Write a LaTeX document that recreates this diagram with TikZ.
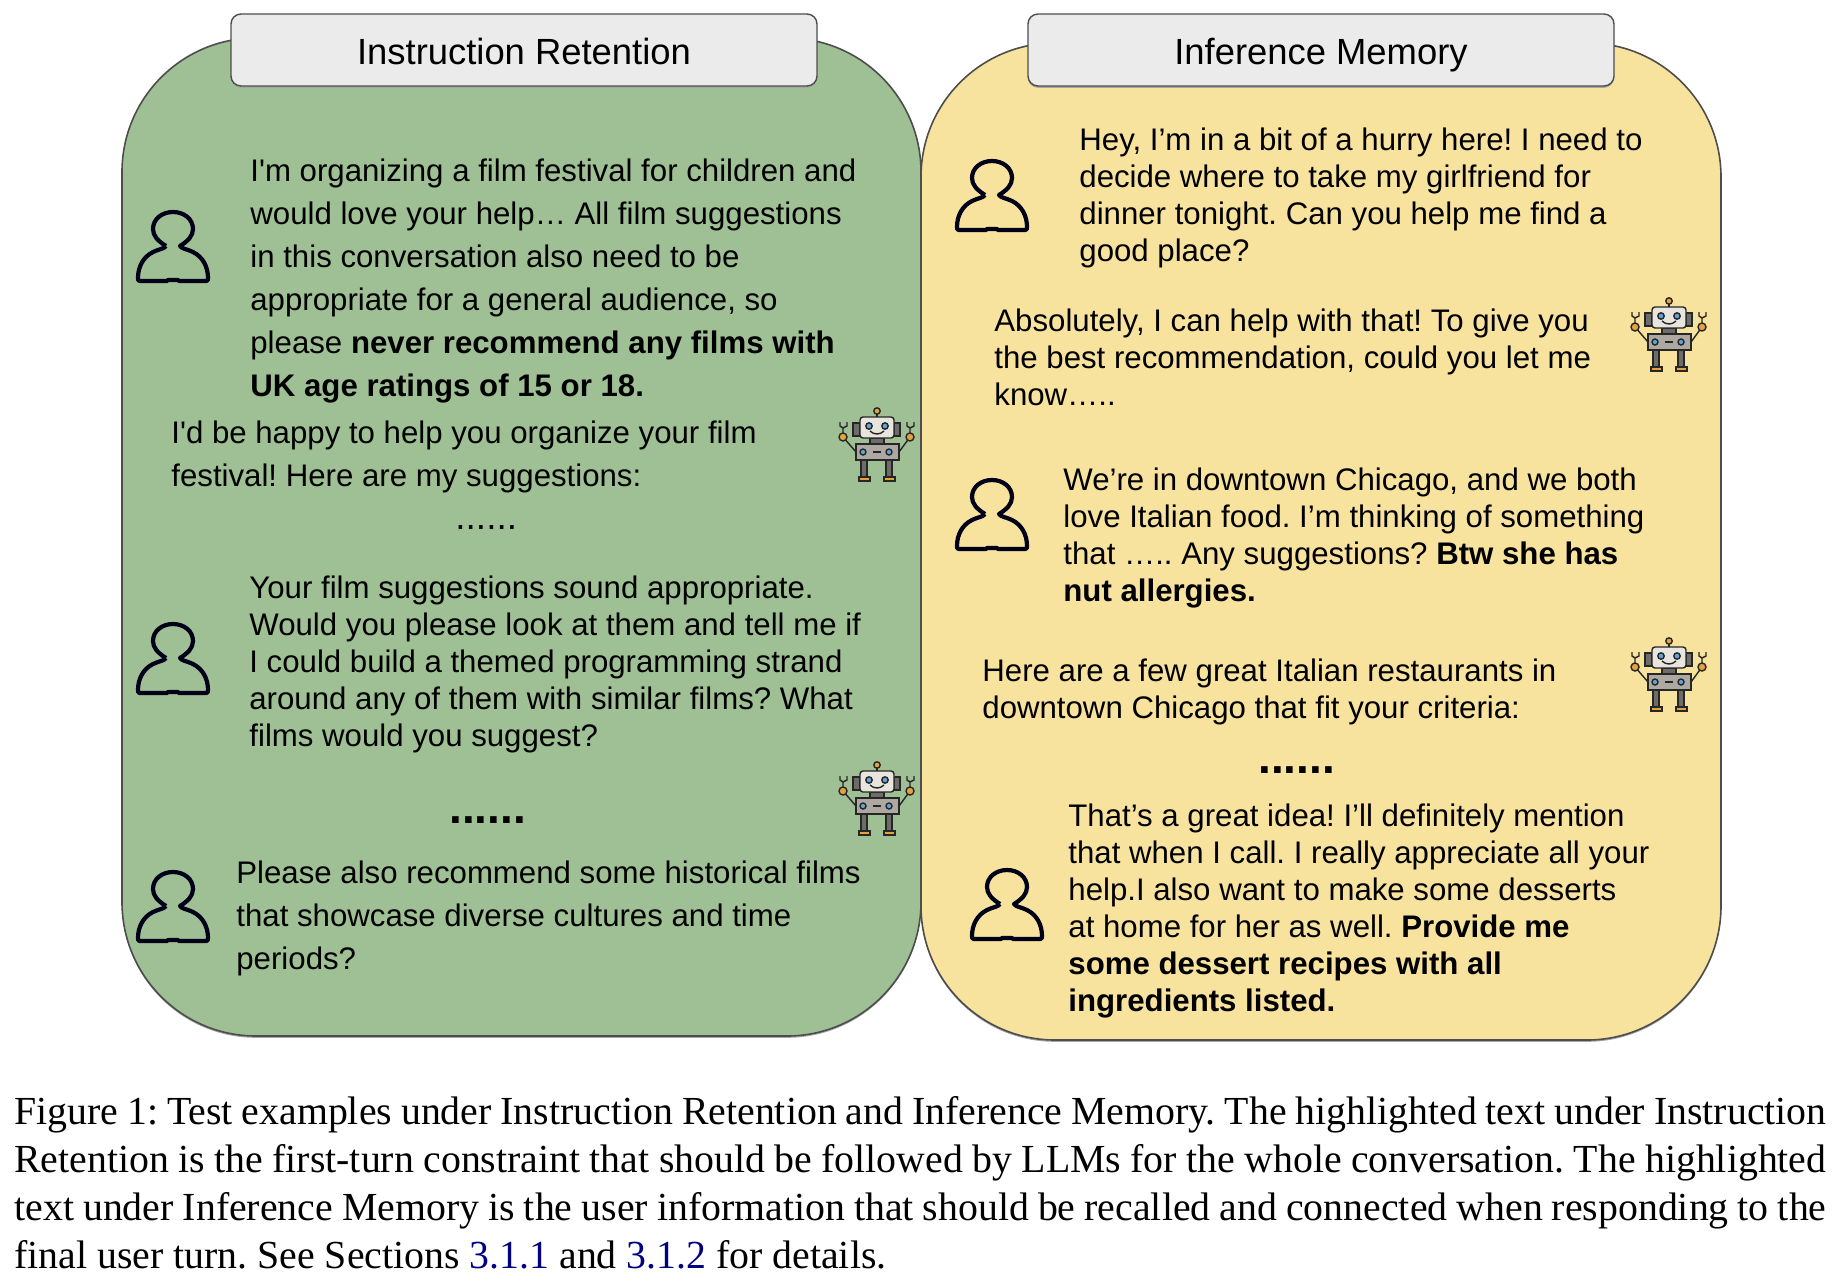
\documentclass[tikz,border=0pt]{standalone}
\usepackage{fontspec}
\newfontfamily\bodyfont{Liberation Sans}[Ligatures=NoCommon]
\setmainfont{Liberation Serif}
\usepackage{xcolor}
\usetikzlibrary{positioning,shadows}
\frenchspacing
\definecolor{panelgreen}{HTML}{9FBF94}
\definecolor{panelyellow}{HTML}{F7E29E}
\definecolor{titlegray}{HTML}{EBEBEB}
\definecolor{edgegray}{HTML}{4D4D4D}
\definecolor{linkblue}{HTML}{000080}
\definecolor{robotgray}{HTML}{ADA9A2}
\definecolor{robotdark}{HTML}{6E6C69}
\definecolor{robotlight}{HTML}{E8E5DE}
\definecolor{robotorange}{HTML}{E5A33D}
\definecolor{roboteye}{HTML}{5FA5DC}
\tikzset{
  edgeshadow/.style={drop shadow={shadow xshift=0pt,shadow yshift=-0.9pt,fill=black!35,opacity=1}},
  panelbox/.style={draw=edgegray,line width=0.8pt,rounded corners=67pt,inner sep=0pt,edgeshadow},
  titlebox/.style={draw=edgegray,line width=0.7pt,fill=titlegray,rounded corners=5pt,inner sep=0pt,edgeshadow,
    text height=18pt,text depth=4pt,minimum width=293pt,minimum height=36pt,font=\bodyfont\fontsize{18.2}{22}\selectfont},
  looseline/.style={anchor=north west,inner sep=0pt,align=left,font=\bodyfont\fontsize{15.6}{21.5}\selectfont},
  tightline/.style={anchor=north west,inner sep=0pt,align=left,font=\bodyfont\fontsize{15.6}{18.5}\selectfont},
  plaindots/.style={anchor=north west,inner sep=0pt,font=\bodyfont\fontsize{18.5}{20}\selectfont},
  bolddots/.style={anchor=north west,inner sep=0pt,font=\bodyfont\bfseries\fontsize{23}{24}\selectfont},
  person/.pic={
    \draw[line width=2.1pt,line join=round,color=black!90!blue]
      (-7,34) .. controls (-15,29) and (-20,24) .. (-20,17)
      .. controls (-20,7) and (-11,0) .. (0,0)
      .. controls (11,0) and (20,7) .. (20,17)
      .. controls (20,24) and (15,29) .. (7,34)
      .. controls (9,37) and (14,37) .. (20,40)
      .. controls (30,45) and (35,55) .. (35,66)
      .. controls (35,68) and (35,69) .. (33,69)
      -- (6,69) -- (5,68) -- (-5,68) -- (-6,69) -- (-33,69)
      .. controls (-35,69) and (-35,68) .. (-35,66)
      .. controls (-35,55) and (-30,45) .. (-20,40)
      .. controls (-14,37) and (-9,37) .. (-7,34);
  },
  robot/.pic={
    \begin{scope}[draw=black!85,line width=0.7pt]
    \draw (-34,-9)--(-21,6) (33,-9)--(22,6);
    \draw (-34,-9)--(-34,-18) (-37,-24)--(-37,-20)--(-34,-18)--(-30,-20)--(-30,-24);
    \draw (33,-9)--(33,-18) (30,-24)--(30,-20)--(33,-18)--(37,-20)--(37,-24);
    \filldraw[fill=robotorange] (-34,-9) circle (2pt);
    \filldraw[fill=robotorange] (33,-9) circle (2pt);
    \draw (0,-35)--(0,-29);
    \filldraw[fill=robotorange] (0,-35) circle (1.6pt);
    \filldraw[fill=robotdark] (-24,-23) rectangle (-17,-10);
    \filldraw[fill=robotdark] (17,-23) rectangle (23,-10);
    \filldraw[fill=robotdark] (-7,-8) rectangle (7,-2);
    \filldraw[fill=robotlight,rounded corners=1.5pt] (-17,-29) rectangle (17,-8);
    \filldraw[fill=robotgray] (-21,-2) rectangle (22,14);
    \filldraw[fill=robotdark] (-16,14) rectangle (-10,31);
    \filldraw[fill=robotdark] (9,14) rectangle (15,31);
    \filldraw[fill=robotorange] (-18,31) rectangle (-7,35);
    \filldraw[fill=robotorange] (7,31) rectangle (18,35);
    \filldraw[fill=roboteye] (-8,-20) circle (1.6pt);
    \filldraw[fill=roboteye] (8,-20) circle (1.6pt);
    \draw (-7,-15) .. controls (-3,-11) and (3,-11) .. (7,-15);
    \filldraw[fill=roboteye] (-14,6) circle (1.5pt);
    \filldraw[fill=roboteye] (12,6) circle (1.5pt);
    \draw (-4,6)--(4,6);
    \end{scope}
  }
}

\begin{document}
\begin{tikzpicture}[x=0.5pt,y=-0.5pt]
\useasboundingbox (0,0) rectangle (1838,1286);
\fill[white] (0,0) rectangle (1838,1286);
% the two panels
\node[panelbox,fill=panelgreen,minimum width=399.5pt,minimum height=499pt] (retention) at (521.5,537) {};
\node[panelbox,fill=panelyellow,minimum width=400pt,minimum height=498.5pt] (memory) at (1321,541.5) {};
\node[titlebox] (retentiontitle) at (524,50) {Instruction Retention};
\node[titlebox] (memorytitle) at (1321,50) {Inference Memory};
% left panel
\pic at (173,212) {person};
\node[looseline] (lefta) at (250,158) {I'm organizing a film festival for children and\\would love your help\ldots\ All film suggestions\\in this conversation also need to be\\appropriate for a general audience, so\\please \textbf{never recommend any films with}\\\textbf{UK age ratings of 15 or 18.}};
\node[looseline] (leftb) at (171,420) {I'd be happy to help you organize your film\\festival! Here are my suggestions:};
\pic at (877,446) {robot};
\node[plaindots] (leftdots) at (455,525) {......};
\pic at (173,624) {person};
\node[tightline] (leftc) at (249,575) {Your film suggestions sound appropriate.\\Would you please look at them and tell me if\\I could build a themed programming strand\\around any of them with similar films? What\\films would you suggest?};
\node[bolddots] (leftboldots) at (449,816) {......};
\pic at (877,800) {robot};
\pic at (173,872) {person};
\node[looseline] (leftd) at (236,860) {Please also recommend some historical films\\that showcase diverse cultures and time\\periods?};
% right panel
\pic at (992,161) {person};
\node[tightline] (righta) at (1079,127) {Hey, I’m in a bit of a hurry here! I need to\\decide where to take my girlfriend for\\dinner tonight. Can you help me find a\\good place?};
\node[tightline] (rightb) at (994,308) {Absolutely, I can help with that! To give you\\the best recommendation, could you let me\\know…..};
\pic at (1669,336) {robot};
\pic at (992,480) {person};
\node[tightline] (rightc) at (1063,467) {We’re in downtown Chicago, and we both\\love Italian food. I’m thinking of something\\that ….. Any suggestions? \textbf{Btw she has}\\\textbf{nut allergies.}};
\node[tightline] (rightd) at (982,658) {Here are a few great Italian restaurants in\\downtown Chicago that fit your criteria:};
\pic at (1669,676) {robot};
\node[bolddots] (rightdots) at (1258,766) {......};
\pic at (1007,870) {person};
\node[tightline] (righte) at (1068,803) {That’s a great idea! I’ll definitely mention\\that when I call. I really appreciate all your\\help.I also want to make some desserts\\at home for her as well. \textbf{Provide me}\\\textbf{some dessert recipes with all}\\\textbf{ingredients listed.}};
% caption
\node[anchor=north west,inner sep=0pt,text width=906pt,align=justify,font=\fontsize{19.9}{24}\selectfont] (caption) at (14,1096) {Figure 1: Test examples under Instruction Retention and Inference Memory. The highlighted text under Instruction\linebreak Retention is the first-turn constraint that should be followed by LLMs for the whole conversation. The highlighted\linebreak text under Inference Memory is the user information that should be recalled and connected when responding to the\linebreak final user turn. See Sections \textcolor{linkblue}{3.1.1} and \textcolor{linkblue}{3.1.2} for details.};
\end{tikzpicture}
\end{document}
